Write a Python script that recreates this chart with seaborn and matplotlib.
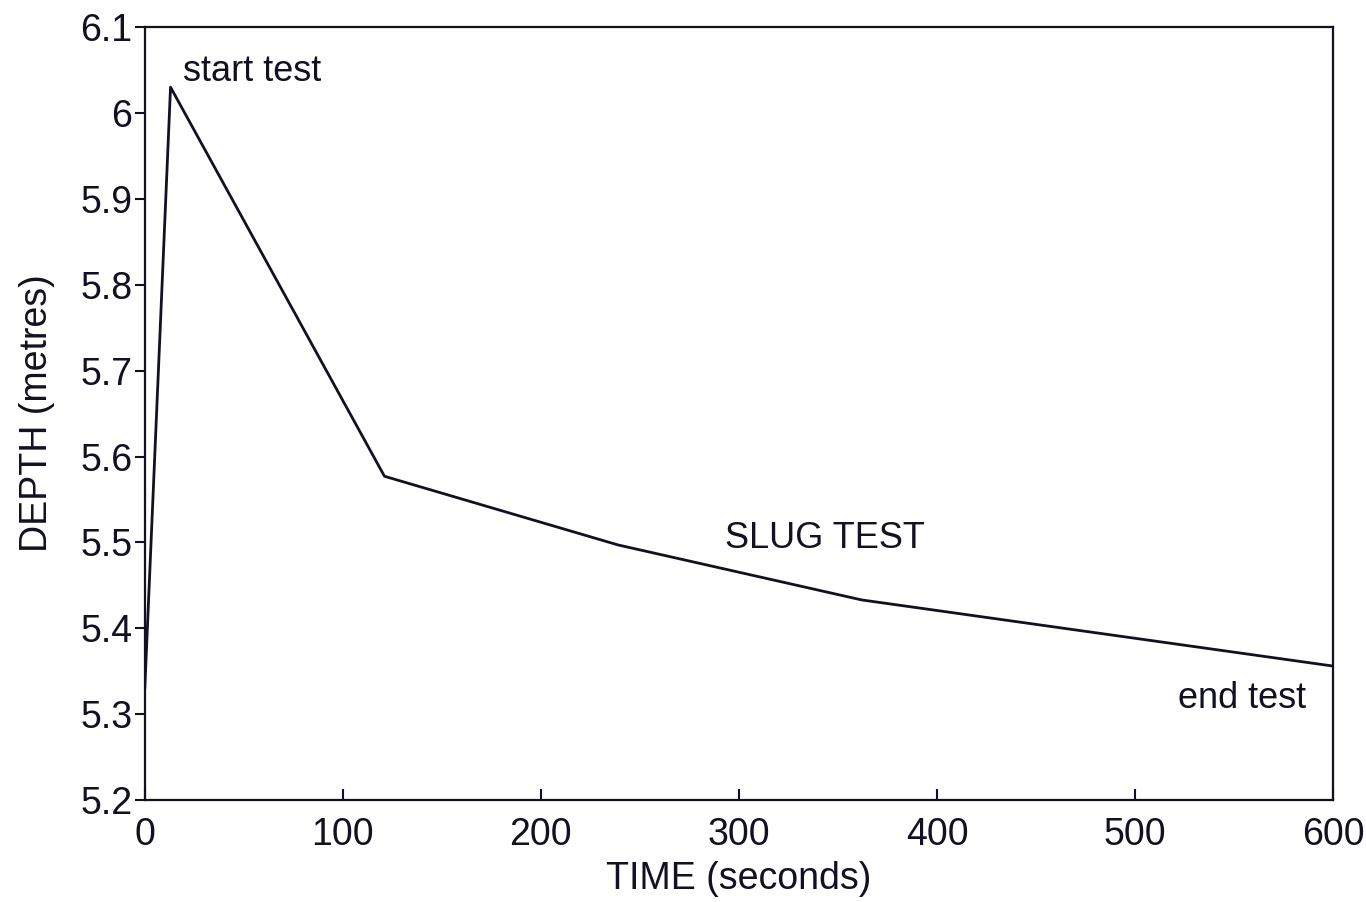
import matplotlib
matplotlib.use("Agg")
import matplotlib.pyplot as plt
import seaborn as sns
import pandas as pd

# Data
time_s = [0, 13, 121, 239, 362, 600]
depth_m = [5.33, 6.03, 5.577, 5.497, 5.433, 5.356]

x_ticks = [0, 100, 200, 300, 400, 500, 600]
x_ticklabels = ["0", "100", "200", "300", "400", "500", "600"]
y_ticks = [5.2, 5.3, 5.4, 5.5, 5.6, 5.7, 5.8, 5.9, 6.0, 6.1]
y_ticklabels = ["5.2", "5.3", "5.4", "5.5", "5.6", "5.7", "5.8", "5.9", "6", "6.1"]

annotations = [("start test", 19.5, 6.037), ("SLUG TEST", 293, 5.493), ("end test", 521.5, 5.307)]

sns.set_style("ticks")
plt.rcParams['font.family'] = ['Liberation Sans', 'DejaVu Sans']

df = pd.DataFrame({"TIME": time_s, "DEPTH": depth_m})

fig = plt.figure(figsize=(13.66, 9.02), dpi=100)
ax = fig.add_axes([0.106, 0.113, 0.870, 0.857])

sns.lineplot(data=df, x="TIME", y="DEPTH", ax=ax, color="#111122", linewidth=2.0, sort=False)

ax.set_xlim(0, 600)
ax.set_ylim(5.2, 6.1)
ax.set_xticks(x_ticks)
ax.set_xticklabels(x_ticklabels)
ax.set_yticks(y_ticks)
ax.set_yticklabels(y_ticklabels)

ax.tick_params(axis="x", direction="in", length=8, width=1.5, pad=12, labelsize=27, colors="#111122")
ax.tick_params(axis="y", direction="out", length=7, width=1.5, pad=2, labelsize=27, colors="#111122")

for s in ax.spines.values():
    s.set_visible(True)
    s.set_linewidth(1.6)
    s.set_color("#111122")

ax.set_xlabel("TIME (seconds)", fontsize=27, color="#111122", labelpad=6)
ax.set_ylabel("DEPTH (metres)", fontsize=27, color="#111122", labelpad=18)

for txt, x, y in annotations:
    ax.text(x, y, txt, fontsize=26, color="#111122", ha="left", va="baseline")

fig.savefig("out.png", dpi=100)
